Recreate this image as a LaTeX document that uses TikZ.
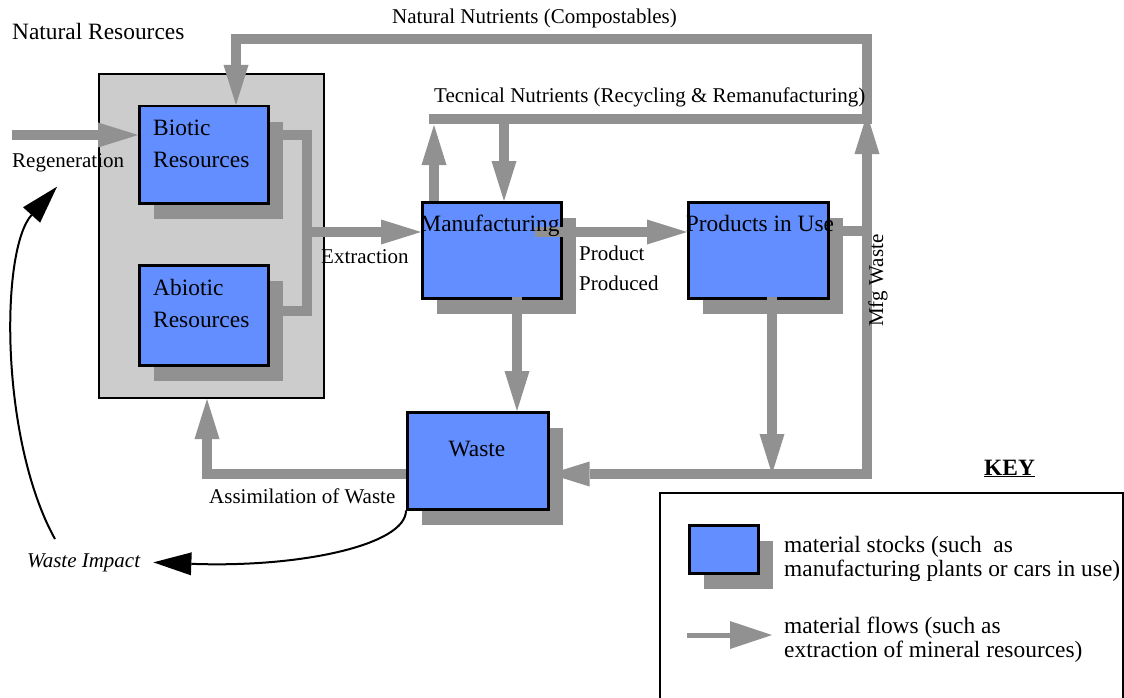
\documentclass[tikz,border=0pt]{standalone}
\usepackage{fontspec}
\setmainfont{Liberation Serif}
\usetikzlibrary{arrows.meta,shadows,calc}
\definecolor{stockblue}{HTML}{628EFF}
\definecolor{flowgray}{HTML}{919191}
\definecolor{poolgray}{HTML}{CCCCCC}
\tikzset{stock/.style={draw=black,line width=2.5pt,fill=stockblue,inner sep=0pt,anchor=north west,
           drop shadow={shadow xshift=15pt,shadow yshift=-16pt,fill=flowgray,opacity=1}},
         pipe/.style={draw=flowgray,line width=10pt},
         flow/.style={pipe,-{Triangle[length=40pt,width=25pt,line width=0pt]}},
         impact/.style={draw=black,line width=2pt,-{Triangle[length=38pt,width=23pt,line width=0pt]}},
         big/.style={inner sep=0pt,font=\fontsize{23.4}{32}\selectfont},
         small/.style={inner sep=0pt,font=\fontsize{21}{30}\selectfont},
         keytext/.style={inner sep=0pt,align=left,anchor=base west,font=\fontsize{23.4}{23.5}\selectfont}}

\begin{document}
\begin{tikzpicture}[x=1pt,y=-1pt]
      \useasboundingbox (0,0) rectangle (1124,698);
      % stocks
      \node[draw,line width=2pt,fill=poolgray,inner sep=0pt,anchor=north west,
            minimum width=225pt,minimum height=324pt] (natres) at (98,73) {};
      \node[stock,minimum width=129pt,minimum height=97pt] (biotic) at (138,105) {};
      \node[stock,minimum width=129pt,minimum height=100pt] (abiotic) at (138,264) {};
      \node[stock,minimum width=139pt,minimum height=96pt] (manuf) at (421,201) {};
      \node[stock,minimum width=140pt,minimum height=96pt] (prod) at (687,201) {};
      \node[stock,minimum width=141pt,minimum height=97pt] (waste) at (406,411) {};
      % junctions
      \coordinate (regen) at (12,135);
      \coordinate (bioOut) at (282,135);
      \coordinate (abioOut) at (282,311);
      \coordinate (ext) at (307,232);
      \coordinate (mfg) at (867,231);
      \coordinate (ret) at (867,474);
      \coordinate (tech) at (867,119);
      \coordinate (techL) at (434,119);
      \coordinate (techD) at (504,119);
      \coordinate (nat) at (867,39);
      \coordinate (natIn) at (236,39);
      \coordinate (scrap) at (517,297);
      \coordinate (used) at (772,297);
      \coordinate (assim) at (207,474);
      % flows
      \draw[flow] (regen) -- (regen -| biotic.west);
      \draw[pipe] (bioOut) -- (bioOut -| ext) -- (abioOut -| ext) -- (abioOut);
      \draw[flow] (ext) -- (ext -| manuf.west);
      \draw[flow] ($(ext -| manuf.east)+(-28,0)$) -- (ext -| prod.west);
      \draw[flow] (mfg -| prod.east) -- (mfg) -- (ret) -- (ret -| waste.east);
      \draw[flow] (mfg) -- ([yshift=5pt]tech);
      \draw[flow] ([yshift=-5pt]tech) -- (nat) -- (natIn) -- (natIn |- biotic.north);
      \draw[pipe] ([xshift=5pt]tech) -- ([xshift=-5pt]techL);
      \draw[flow] (techL |- manuf.north) -- ([yshift=-6pt]techL);
      \draw[flow] (techD) -- (techD |- manuf.north);
      \draw[flow] (scrap) -- (scrap |- waste.north);
      \draw[flow] (used) -- (used |- ret);
      \draw[flow] (ret -| waste.west) -- (assim) -- (assim |- natres.south);
      % labels
      \node[big,anchor=base west] (natresTxt) at (12,40) {Natural Resources};
      \node[big,anchor=base west,align=left] (bioticTxt) at (153,167) {Biotic\\Resources};
      \node[big,anchor=base west,align=left] (abioticTxt) at (153,327) {Abiotic\\Resources};
      \node[big,anchor=base] (manufTxt) at (490,231) {Manufacturing};
      \node[big,anchor=base] (prodTxt) at (760,231) {Products in Use};
      \node[big,anchor=base] (wasteTxt) at (477,456) {Waste};
      \node[small,anchor=base west] (natTxt) at (392,24) {Natural Nutrients (Compostables)};
      \node[small,anchor=base west] (techTxt) at (434,103) {Tecnical Nutrients (Recycling \& Remanufacturing)};
      \node[small,anchor=base west] (regenTxt) at (12,167) {Regeneration};
      \node[small,anchor=base west] (extTxt) at (321,263) {Extraction};
      \node[small,anchor=base west,align=left] (producedTxt) at (579,290) {Product\\Produced};
      \node[small,anchor=base west,rotate=90] (mfgTxt) at (883,327) {Mfg Waste};
      \node[small,anchor=base west] (assimTxt) at (209,503) {Assimilation of Waste};
      \node[small,anchor=base west,font=\fontsize{21}{30}\selectfont\itshape] (impactTxt) at (27,567) {Waste Impact};
      % waste impact
      \draw[impact] (waste.south west) .. controls (406,545) and (300,568) .. ([xshift=13pt]impactTxt.east);
      \draw[impact] ($(impactTxt.north west)+(28,-14)$) .. controls (0,440) and (0,250) .. ($(regenTxt.south west)+(45,15)$);
      % key
      \node[big,anchor=base west,font=\fontsize{23.4}{32}\selectfont\bfseries] (keyTitle) at (984,475) {\underline{KEY}};
      \node[draw,line width=2pt,inner sep=0pt,anchor=north west,minimum width=463pt,minimum height=230pt] (keybox) at (659,492) {};
      \node[stock,minimum width=69pt,minimum height=48pt] (keystock) at (688,524) {};
      \node[keytext] (stockTxt) at (784,576) {material stocks (such~ as\\manufacturing plants or cars in use)};
      \coordinate (keyflowA) at (687,635);
      \coordinate (keyflowB) at (772,635);
      \draw[flow,line width=5pt,-{Triangle[length=42pt,width=28pt,line width=0pt]}] (keyflowA) -- (keyflowB);
      \node[keytext] (flowTxt) at (784,657) {material flows (such as\\extraction of mineral resources)};
\end{tikzpicture}
\end{document}
